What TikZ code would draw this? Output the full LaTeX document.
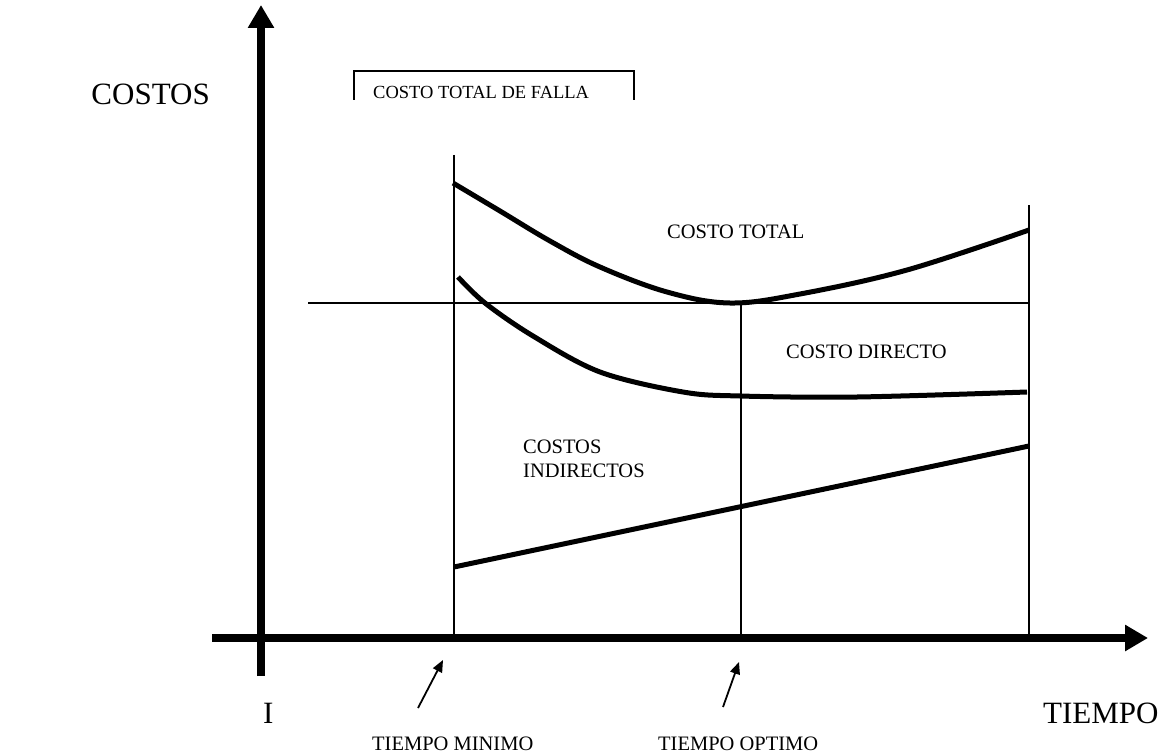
\documentclass[tikz,border=0pt]{standalone}
\usepackage{fontspec}
\setmainfont{Liberation Serif}
\usetikzlibrary{arrows.meta}
\tikzset{
  axisline/.style={line width=8pt,-{Triangle[length=23pt,width=25pt]}},
  guide/.style={line width=1.5pt},
  costcurve/.style={line width=5pt},
  pointer/.style={line width=1.8pt,-{Triangle[length=12pt,width=10pt]}},
  biglabel/.style={inner sep=0pt,font=\fontsize{31}{36}\selectfont},
  smalllabel/.style={inner sep=0pt,font=\fontsize{20.5}{24}\selectfont},
}
\begin{document}
\begin{tikzpicture}[x=1pt,y=-1pt]
\useasboundingbox (0,0) rectangle (1166,754);
% axes
\coordinate (yb) at (261,676);
\coordinate (yt) at (261,5);
\coordinate (xl) at (212,638);
\coordinate (xr) at (1148,638);
\draw[axisline] (yb) -- (yt);
\draw[axisline] (xl) -- (xr);
% guides
\coordinate (v1t) at (454,155);
\coordinate (v1b) at (454,638);
\coordinate (v2t) at (741,303);
\coordinate (v2b) at (741,638);
\coordinate (v3t) at (1029,205);
\coordinate (v3b) at (1029,638);
\coordinate (hl) at (308,303);
\draw[guide] (v1t) -- (v1b);
\draw[guide] (v2t) -- (v2b);
\draw[guide] (v3t) -- (v3b);
\draw[guide] (hl) -- (v3t |- hl);
% box
\draw[guide] (354,100) |- (634,71) -- (634,100);
\node[inner sep=0pt,anchor=base west,font=\fontsize{18.5}{22}\selectfont] (falla) at (373,99) {COSTO TOTAL DE FALLA};
% curves
\draw[costcurve] plot[smooth,tension=0.6] coordinates {(453,183) (500,211) (550,241) (600,267) (667,292) (730,303) (800,294) (907,270) (1029,230)};
\draw[costcurve] plot[smooth,tension=0.55] coordinates {(458,277) (485,303) (533,336) (600,372) (683,392) (740,396) (857,397) (1027,392)};
\draw[costcurve] (454,567) -- (1029,446);
% labels
\node[biglabel,anchor=base east] (costos) at (210,105) {COSTOS};
\node[biglabel,anchor=base west] (tiempo) at (1043,723) {TIEMPO};
\node[biglabel,anchor=base west] (ilab) at (263,723) {I};
\node[smalllabel,anchor=base west] (ct) at (667,238) {COSTO TOTAL};
\node[smalllabel,anchor=base west] (cd) at (786,358) {COSTO DIRECTO};
\node[smalllabel,anchor=base west] (ci1) at (523,453) {COSTOS};
\node[smalllabel,anchor=base west] (ci2) at (523,477) {INDIRECTOS};
\node[smalllabel,anchor=base west] (tmin) at (372,750) {TIEMPO MINIMO};
\node[smalllabel,anchor=base west] (topt) at (658,750) {TIEMPO OPTIMO};
% pointers
\coordinate (p1s) at (418,708);
\coordinate (p1e) at (443,660);
\coordinate (p2s) at (723,707);
\coordinate (p2e) at (739,662);
\draw[pointer] (p1s) -- (p1e);
\draw[pointer] (p2s) -- (p2e);
\end{tikzpicture}
\end{document}
